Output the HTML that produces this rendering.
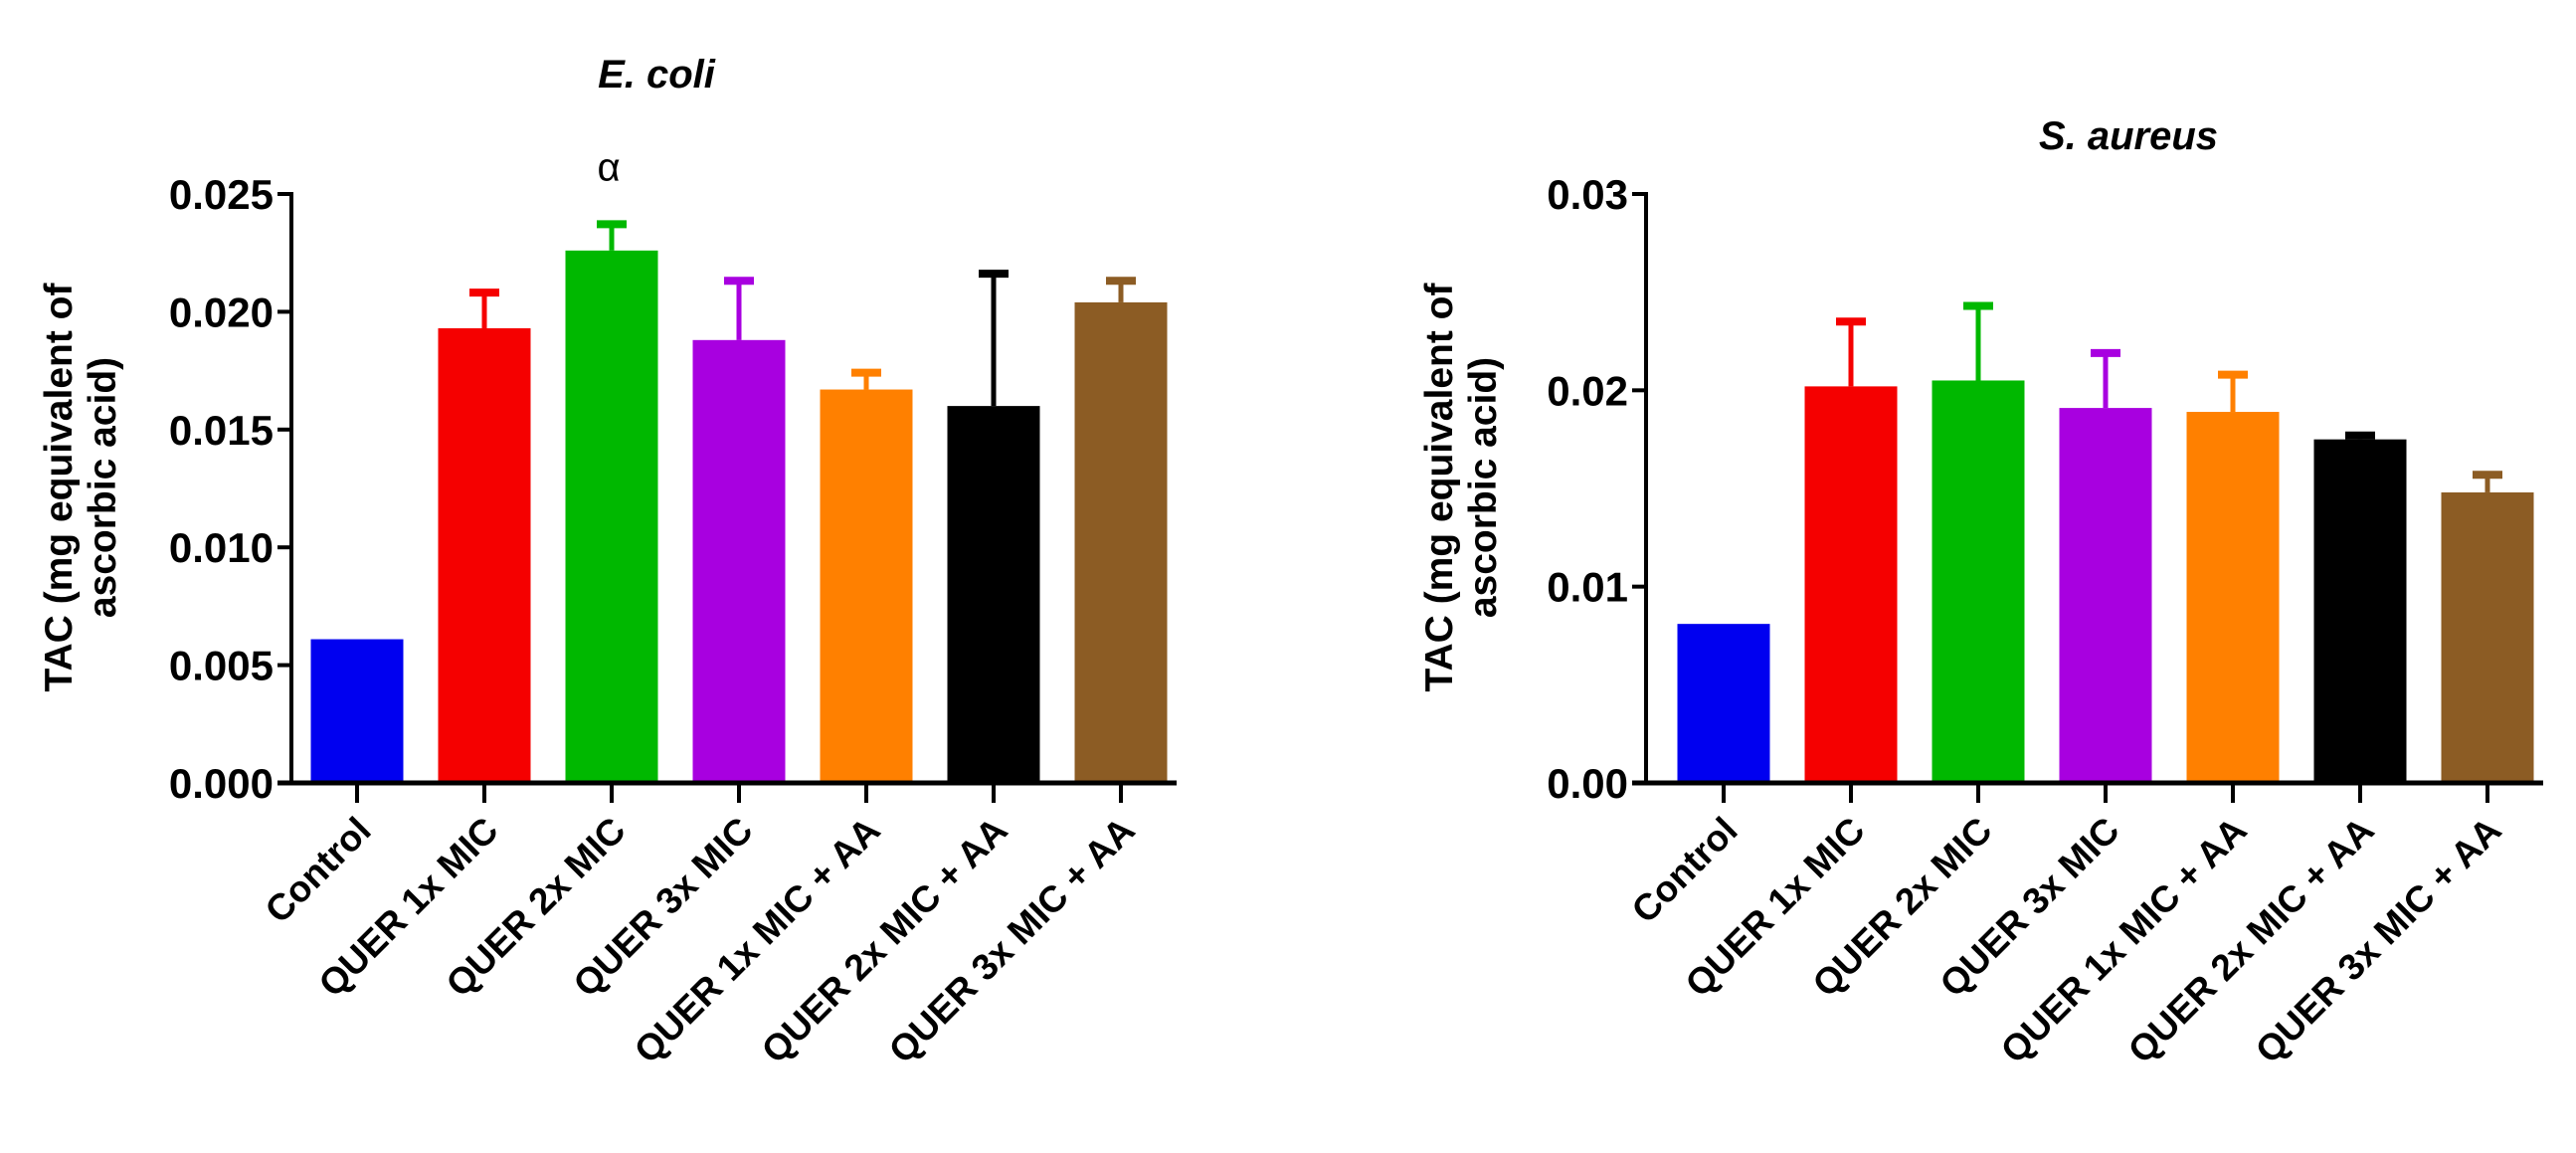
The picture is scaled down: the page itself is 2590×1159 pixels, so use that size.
<!DOCTYPE html>
<html><head><meta charset="utf-8"><style>
html,body{margin:0;padding:0;background:#fff;}
svg{display:block;}
text{font-family:"Liberation Sans",Arial,sans-serif;}
</style></head><body>
<svg id="chart" width="2590" height="1159" viewBox="0 0 2590 1159" xmlns="http://www.w3.org/2000/svg"></svg>
<script>
const categories = ["Control","QUER 1x MIC","QUER 2x MIC","QUER 3x MIC","QUER 1x MIC + AA","QUER 2x MIC + AA","QUER 3x MIC + AA"];
const colors = ["#0000f0","#f50000","#00b800","#a800e0","#ff8000","#000000","#8c5c24"];
const ecoliMeans = [0.0061,0.0193,0.0226,0.0188,0.0167,0.0160,0.0204];
const ecoliErrTops = [0.0061,0.0209,0.0238,0.0214,0.0175,0.0217,0.0214];
const ecoliTicks = ["0.000","0.005","0.010","0.015","0.020","0.025"];
const ecoliTickVals = [0,0.005,0.010,0.015,0.020,0.025];
const saureusMeans = [0.0081,0.0202,0.0205,0.0191,0.0189,0.0175,0.0148];
const saureusErrTops = [0.0081,0.0236,0.0244,0.0220,0.0209,0.0178,0.0158];
const saureusTicks = ["0.00","0.01","0.02","0.03"];
const saureusTickVals = [0,0.01,0.02,0.03];

const NS="http://www.w3.org/2000/svg";
const svg=document.getElementById('chart');
function mk(tag,attrs,parent){const e=document.createElementNS(NS,tag);for(const k in attrs)e.setAttribute(k,attrs[k]);(parent||svg).appendChild(e);return e;}

function drawPanel(cfg){
  const g=mk('g',{});
  
  
  const y0=787, yTop=195;
  const yScale=v=>y0-(v/cfg.max)*(y0-yTop);
  const xScale=i=>cfg.x0+i*128;
  const bw=93;
  cfg.means.forEach((m,i)=>{
    const cx=xScale(i);
    const r=mk('rect',{x:cx-bw/2,y:yScale(m),width:bw,height:y0-yScale(m),fill:colors[i]},g);
    
    
    if(cfg.errs[i]>m){
      const eg=mk('g',{stroke:colors[i],'stroke-width':5},g);
      
      
      mk('line',{x1:cx,x2:cx,y1:yScale(m),y2:yScale(cfg.errs[i])},eg);
      mk('line',{x1:cx-15,x2:cx+15,y1:yScale(cfg.errs[i])+2,y2:yScale(cfg.errs[i])+2,'stroke-width':8},eg);
    }
    mk('line',{x1:cx,x2:cx,y1:y0,y2:y0+20,stroke:'#000','stroke-width':4},g);
    const t=mk('text',{x:0,y:0,'font-size':37,'font-weight':'bold','text-anchor':'end',transform:`translate(${cx+16},${y0+50}) rotate(-45)`},g);
    t.textContent=categories[i];
    
    
  });
  const ax=mk('line',{x1:cfg.axisX,x2:cfg.axisX,y1:yTop-2,y2:y0+2,stroke:'#000','stroke-width':4},g);
  
  
  const xa=mk('line',{x1:cfg.axisX-14,x2:xScale(categories.length-1)+56,y1:y0,y2:y0,stroke:'#000','stroke-width':5},g);
  
  
  cfg.tickVals.forEach((v,i)=>{
    const y=yScale(v);
    mk('line',{x1:cfg.axisX-14,x2:cfg.axisX,y1:y,y2:y,stroke:'#000','stroke-width':4},g);
    const t=mk('text',{x:cfg.axisX-18,y:y+15,'font-size':42,'font-weight':'bold','text-anchor':'end'},g);
    t.textContent=cfg.ticks[i];
    
    
  });
  const yt=mk('text',{'font-size':39,'font-weight':'bold','text-anchor':'middle',transform:`translate(${cfg.titleX},490) rotate(-90)`},g);
  
  
  const s1=mk('tspan',{x:0,y:0},yt); s1.textContent='TAC (mg equivalent of';
  const s2=mk('tspan',{x:0,y:44},yt); s2.textContent='ascorbic acid)';
  const tt=mk('text',{x:cfg.headX,y:cfg.headY,'font-size':40,'font-weight':'bold','font-style':'italic','text-anchor':'middle'},g);
  tt.textContent=cfg.title;
  
  
  return {g,yScale,xScale};
}
const L=drawPanel({name:'ecoli',title:'E. coli',means:ecoliMeans,errs:ecoliErrTops,ticks:ecoliTicks,tickVals:ecoliTickVals,max:0.025,x0:359,axisX:293,titleX:72,headX:660,headY:88});
const a=mk('text',{x:L.xScale(2)-3,y:L.yScale(ecoliErrTops[2])-42,'font-size':40,'text-anchor':'middle','font-family':'Liberation Serif, serif'},L.g);
a.textContent='α';


drawPanel({name:'saureus',title:'S. aureus',means:saureusMeans,errs:saureusErrTops,ticks:saureusTicks,tickVals:saureusTickVals,max:0.03,x0:1733,axisX:1655,titleX:1460,headX:2140,headY:150});
</script>
</body></html>
